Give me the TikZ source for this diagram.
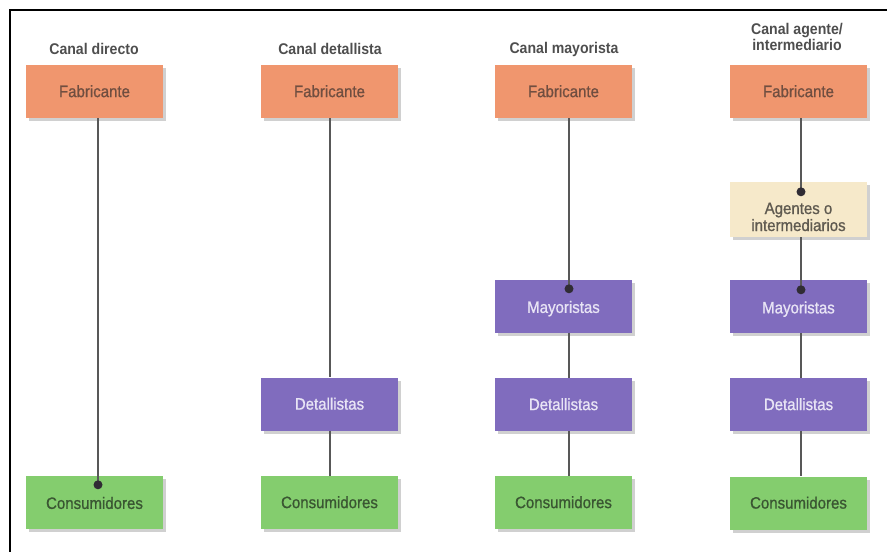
\documentclass[tikz,border=0pt]{standalone}
\usepackage{fontspec}
\setmainfont{Liberation Sans}
\newfontfamily\condfont[FakeStretch=0.91]{Liberation Sans}
\newfontfamily\boxfont[FakeStretch=0.91,FakeBold=0.9]{Liberation Sans}
\usetikzlibrary{shadows,calc}

\definecolor{fabfill}{RGB}{240,150,110}
\definecolor{fabtext}{RGB}{112,78,64}
\definecolor{agfill}{RGB}{246,233,202}
\definecolor{agtext}{RGB}{95,90,80}
\definecolor{purfill}{RGB}{128,108,190}
\definecolor{purtext}{RGB}{232,228,245}
\definecolor{grnfill}{RGB}{132,205,110}
\definecolor{grntext}{RGB}{58,86,50}
\definecolor{titlegray}{RGB}{78,78,78}
\definecolor{linegray}{RGB}{88,88,88}
\definecolor{shadegray}{RGB}{208,208,208}
\definecolor{dotgray}{RGB}{48,44,52}

\begin{document}
\begin{tikzpicture}[x=1pt,y=-1pt,
  box/.style={rectangle, inner sep=0pt, minimum width=137pt, minimum height=53pt,
    font=\boxfont\fontsize{16.5}{17}\selectfont, text height=1.12em, text depth=0pt,
    drop shadow={shadow xshift=2.5pt, shadow yshift=-3pt, fill=shadegray, opacity=1}},
  lowtext/.style={text height=1.38em},
  fab/.style={box, fill=fabfill, text=fabtext},
  agent/.style={box, fill=agfill, text=agtext, align=center, minimum height=55pt,
    text height=43pt, text depth=0pt},
  pur/.style={box, fill=purfill, text=purtext},
  grn/.style={box, fill=grnfill, text=grntext},
  title/.style={font=\condfont\bfseries\fontsize{15.5}{14}\selectfont, text=titlegray,
    align=center, inner sep=0pt},
  conn/.style={draw=linegray, line width=1.1pt},
  joint/.style={circle, fill=dotgray, inner sep=0pt, minimum size=9pt}
]
\useasboundingbox (0,0) rectangle (887,552);

% frame edges
\draw[line width=2pt] (10,552) -- (10,10) -- (887,10);

% x positions of the vertical connectors
\coordinate (l1) at (98,0);
\coordinate (l2) at (330,0);
\coordinate (l3) at (569,0);
\coordinate (l4) at (801,0);

% column headings
\node[title] (t1) at (94,49) {Canal directo};
\node[title] (t2) at (330,49) {Canal detallista};
\node[title] (t3) at (564,49) {Canal mayorista};
\node[title] (t4) at (797,37) {Canal agente/\\intermediario};

% canal directo
\node[fab] (f1) at (94.5,91.5) {Fabricante};
\node[grn, lowtext] (c1) at (94.5,502) {Consumidores};

% canal detallista
\node[fab] (f2) at (329.5,91.5) {Fabricante};
\node[pur] (r2) at (329.5,404) {Detallistas};
\node[grn] (c2) at (329.5,502.5) {Consumidores};

% canal mayorista
\node[fab] (f3) at (563.5,91.5) {Fabricante};
\node[pur, lowtext] (m3) at (563.5,306) {Mayoristas};
\node[pur] (r3) at (563.5,404.5) {Detallistas};
\node[grn] (c3) at (563.5,502.5) {Consumidores};

% canal agente/intermediario
\node[fab] (f4) at (798.5,91.5) {Fabricante};
\node[agent] (a4) at (798.5,209.5) {Agentes o\\intermediarios};
\node[pur, lowtext] (m4) at (798.5,306.5) {Mayoristas};
\node[pur] (r4) at (798.5,404.5) {Detallistas};
\node[grn] (c4) at (798.5,503) {Consumidores};

% junction points just inside the top edge of a box
\coordinate (p1) at ($(c1.north -| l1)+(0,9.5)$);
\coordinate (p3) at ($(m3.north -| l3)+(0,9.5)$);
\coordinate (p4a) at ($(a4.north -| l4)+(0,10)$);
\coordinate (p4m) at ($(m4.north -| l4)+(0,10)$);

% connectors
\draw[conn] (f1.south -| l1) -- (p1);

\draw[conn] (f2.south -| l2) -- (r2.north -| l2);
\draw[conn] (r2.south -| l2) -- (c2.north -| l2);

\draw[conn] (f3.south -| l3) -- (p3);
\draw[conn] (m3.south -| l3) -- (r3.north -| l3);
\draw[conn] (r3.south -| l3) -- (c3.north -| l3);

\draw[conn] (f4.south -| l4) -- (p4a);
\draw[conn] (a4.south -| l4) -- (p4m);
\draw[conn] (m4.south -| l4) -- (r4.north -| l4);
\draw[conn] (r4.south -| l4) -- (c4.north -| l4);

% junction dots
\node[joint] (d1) at (p1) {};
\node[joint] (d3) at (p3) {};
\node[joint] (d4a) at (p4a) {};
\node[joint] (d4m) at (p4m) {};
\end{tikzpicture}
\end{document}
